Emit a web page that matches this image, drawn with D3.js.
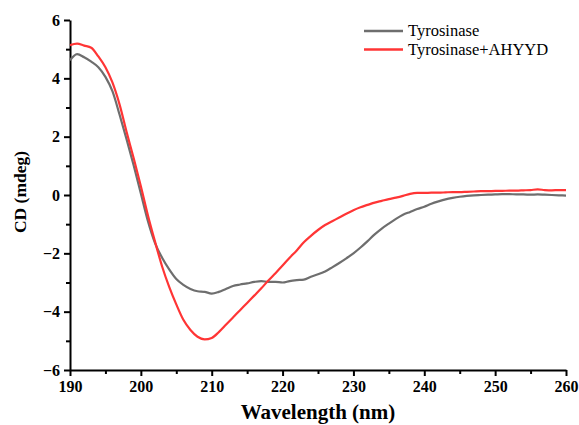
<!DOCTYPE html>
<html>
<head>
<meta charset="utf-8">
<script src="https://cdn.jsdelivr.net/npm/d3@7"></script>
<style>
  body { margin: 0; background: #fff; }
  svg text { font-family: 'Liberation Serif', 'DejaVu Serif', serif; }
  .axis path, .axis line { stroke: #000; stroke-width: 2; }
  .axis text { font-weight: bold; font-size: 16px; fill: #000; }
</style>
</head>
<body>
<div id="plot"></div>
<script>
// wavelength (nm), 1 nm steps
var wavelength = d3.range(190, 261);

var tyrosinase = [
  4.62, 4.83, 4.72, 4.57, 4.38, 4.05, 3.55, 2.75, 1.90, 1.00,
  0.05, -0.90, -1.65, -2.15, -2.55, -2.88, -3.08, -3.22, -3.30, -3.32,
  -3.38, -3.32, -3.22, -3.12, -3.07, -3.03, -2.98, -2.95, -2.98, -2.98,
  -3.00, -2.95, -2.92, -2.90, -2.80, -2.72, -2.62, -2.48, -2.33, -2.17,
  -2.00, -1.80, -1.58, -1.35, -1.15, -0.98, -0.82, -0.68, -0.58, -0.48,
  -0.40, -0.30, -0.22, -0.15, -0.10, -0.06, -0.03, -0.01, 0.00, 0.01,
  0.02, 0.03, 0.03, 0.02, 0.02, 0.01, 0.02, 0.01, 0.00, -0.01,
  -0.02
];

var tyrosinaseAHYYD = [
  5.14, 5.19, 5.12, 5.05, 4.75, 4.38, 3.85, 3.10, 2.15, 1.25,
  0.30, -0.70, -1.60, -2.45, -3.15, -3.75, -4.28, -4.63, -4.86, -4.95,
  -4.90, -4.70, -4.45, -4.20, -3.95, -3.70, -3.45, -3.20, -2.93, -2.68,
  -2.42, -2.15, -1.90, -1.62, -1.40, -1.20, -1.03, -0.90, -0.77, -0.64,
  -0.52, -0.42, -0.34, -0.26, -0.20, -0.14, -0.09, -0.03, 0.04, 0.07,
  0.07, 0.08, 0.08, 0.09, 0.10, 0.10, 0.11, 0.12, 0.13, 0.13,
  0.14, 0.14, 0.15, 0.15, 0.16, 0.17, 0.19, 0.17, 0.16, 0.17,
  0.17
];

var seriesNames = ["Tyrosinase", "Tyrosinase+AHYYD"];
var seriesColors = ["#6e6e6e", "#ff3535"];
var xTicks = [190, 200, 210, 220, 230, 240, 250, 260];
var yTicks = [-6, -4, -2, 0, 2, 4, 6];

var W = 579, H = 425;
var margin = {top: 20, right: 13, bottom: 55, left: 70},
    width = W - margin.left - margin.right,
    height = H - margin.top - margin.bottom;

var x = d3.scaleLinear().domain([190, 260]).range([0, width]);
var y = d3.scaleLinear().domain([-6, 6]).range([height, 0]);

var svg = d3.select('#plot').append('svg')
    .attr('width', W).attr('height', H);

var main = svg.append('g')
    .attr('transform', 'translate(' + margin.left + ',' + margin.top + ')');

// minor ticks
var xMinor = d3.range(195, 260, 10);
var yMinor = d3.range(-5, 6, 2);

main.append('g').attr('class', 'axis')
    .attr('transform', 'translate(0,' + height + ')')
    .call(d3.axisBottom(x).tickValues(xMinor).tickSize(4).tickFormat(''))
    .select('.domain').remove();
main.append('g').attr('class', 'axis')
    .call(d3.axisLeft(y).tickValues(yMinor).tickSize(4).tickFormat(''))
    .select('.domain').remove();

// x axis
main.append('g').attr('class', 'axis')
    .attr('transform', 'translate(0,' + height + ')')
    .call(d3.axisBottom(x).tickValues(xTicks).tickSize(6).tickSizeOuter(0).tickPadding(5).tickFormat(d3.format('d')));

// y axis
main.append('g').attr('class', 'axis')
    .call(d3.axisLeft(y).tickValues(yTicks).tickSize(6).tickSizeOuter(0).tickPadding(4)
      .tickFormat(function(d) { return d < 0 ? '\u2212' + Math.abs(d) : d; }));

main.selectAll('.axis').attr('font-family', null);

// axis titles
svg.append('text')
    .attr('x', margin.left + width / 2)
    .attr('y', 419)
    .attr('text-anchor', 'middle')
    .style('font-weight', 'bold')
    .style('font-size', '21px')
    .text('Wavelength (nm)');

svg.append('text')
    .attr('transform', 'translate(26,192) rotate(-90)')
    .attr('text-anchor', 'middle')
    .style('font-weight', 'bold')
    .style('font-size', '17.5px')
    .text('CD (mdeg)');

// curves
var series = [tyrosinase, tyrosinaseAHYYD];
var line = d3.line()
    .x(function(d, i) { return x(wavelength[i]); })
    .y(function(d) { return y(d); })
    .curve(d3.curveMonotoneX);

main.selectAll('.curve')
    .data(series)
  .enter().append('path')
    .attr('class', 'curve')
    .attr('d', line)
    .attr('fill', 'none')
    .attr('stroke', function(d, i) { return seriesColors[i]; })
    .attr('stroke-width', 2.2);

// legend
var legend = svg.selectAll('.legend')
    .data(seriesNames)
  .enter().append('g')
    .attr('class', 'legend')
    .attr('transform', function(d, i) { return 'translate(364,' + (31 + i * 18.5) + ')'; });

legend.append('line')
    .attr('x1', 0).attr('x2', 39)
    .attr('stroke', function(d, i) { return seriesColors[i]; })
    .attr('stroke-width', 2.5);

legend.append('text')
    .attr('x', 44)
    .attr('y', 5)
    .style('font-size', '16.5px')
    .text(function(d) { return d; });
</script>
</body>
</html>
